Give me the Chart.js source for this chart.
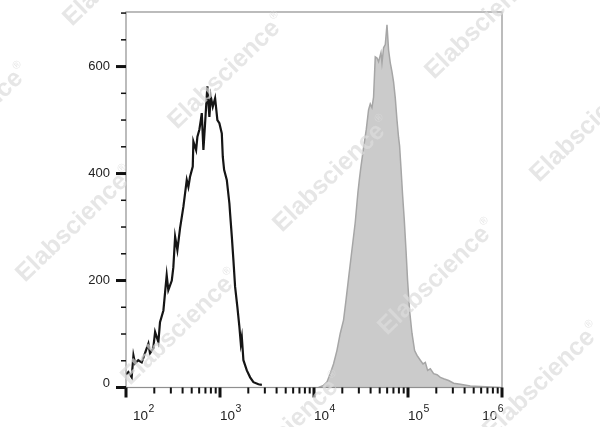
<!DOCTYPE html>
<html>
<head>
<meta charset="utf-8">
<script src="https://cdn.jsdelivr.net/npm/chart.js@4.4.0/dist/chart.umd.min.js"></script>
<style>
  html, body { margin: 0; padding: 0; background: #fff; }
  canvas { display: block; }
</style>
</head>
<body>
<canvas id="myChart" width="600" height="427"></canvas>
<script>
// black outline histogram (control)
const blackX = [100, 106, 115, 120, 125, 135, 147, 159, 173, 180, 195, 204, 221, 230, 250, 271, 282, 307, 319, 333,
  352, 376, 408, 443, 461, 480, 513, 521, 557, 575, 603, 625, 640, 666, 694, 734, 771, 798, 838, 887,
  938, 985, 1045, 1071, 1106, 1181, 1259, 1281, 1336, 1389, 1448, 1532, 1609, 1665, 1707, 1775, 1929, 2092, 2268, 2564, 2788];
const blackY = [24, 29, 19, 60, 45, 51, 47, 64, 82, 64, 73, 104, 85, 122, 144, 210, 182, 200, 225, 282,
  257, 298, 338, 388, 375, 394, 413, 460, 444, 469, 482, 500, 513, 444, 494, 563, 506, 544, 525, 541,
  500, 494, 475, 431, 407, 388, 344, 325, 282, 238, 188, 150, 113, 82, 94, 51, 32, 19, 10, 6, 5];

// grey filled histogram (stained)
const greyX = [11170, 12620, 13720, 14880, 16130, 17530, 19010, 20620, 22030, 23310, 25320, 27470, 29340, 30520, 31590,
  33660, 35960, 38050, 39670, 41360, 43020, 44850, 46760, 48630, 51580, 52860, 54980, 57320, 59760, 62150,
  64790, 67550, 70260, 73250, 76360, 79410, 81380, 84240, 87600, 91330, 95210, 99020, 104000, 110300, 117600,
  124700, 135200, 144400, 152900, 161700, 172800, 187300, 203600, 220800, 243600, 270600, 305900, 360600, 460700,
  588800, 752400, 961600];
const greyY = [0, 4, 10, 26, 44, 69, 101, 126, 167, 204, 257, 309, 365, 392, 413,
  448, 482, 519, 530, 523, 543, 618, 616, 609, 626, 607, 635, 641, 678, 631,
  607, 590, 571, 541, 500, 467, 452, 410, 360, 313, 257, 200, 144, 101, 69,
  60, 51, 44, 47, 32, 35, 26, 24, 19, 16, 13, 8, 6, 3,
  2, 1, 0];

const xMajorTicks = [100, 1000, 10000, 100000, 1000000];
const xTickPowers = ["2", "3", "4", "5", "6"];
const xMinorTicks = [200, 300, 400, 500, 600, 700, 800, 900,
  2000, 3000, 4000, 5000, 6000, 7000, 8000, 9000,
  20000, 30000, 40000, 50000, 60000, 70000, 80000, 90000,
  200000, 300000, 400000, 500000, 600000, 700000, 800000, 900000];
const yMajorTicks = [0, 200, 400, 600];
const yMinorTicks = [50, 100, 150, 250, 300, 350, 450, 500, 550, 650, 700];
const watermarkText = "Elabscience";

const FONT = '"Liberation Sans", Arial, sans-serif';

function toPoints(xs, ys) {
  return xs.map((x, i) => ({ x: x, y: ys[i] }));
}

const axesPlugin = {
  id: "axesPlugin",
  afterDatasetsDraw(chart) {
    const ctx = chart.ctx;
    const area = chart.chartArea;
    const sx = chart.scales.x;
    const sy = chart.scales.y;
    ctx.save();
    // frame
    ctx.strokeStyle = "#8f8f8f";
    ctx.lineWidth = 1.2;
    ctx.strokeRect(area.left, area.top, area.right - area.left, area.bottom - area.top);

    // tick marks
    ctx.fillStyle = "#111";
    xMinorTicks.forEach((t) => {
      const px = sx.getPixelForValue(t);
      ctx.fillRect(px - 1, area.bottom, 2, 6);
    });
    xMajorTicks.forEach((t) => {
      const px = sx.getPixelForValue(t);
      ctx.fillRect(px - 1.5, area.bottom, 3, 10);
    });
    yMinorTicks.forEach((t) => {
      const py = sy.getPixelForValue(t);
      ctx.fillRect(area.left - 5, py - 0.75, 5, 1.5);
    });
    yMajorTicks.forEach((t) => {
      const py = sy.getPixelForValue(t);
      ctx.fillRect(area.left - 10, py - 1.5, 10, 3);
    });

    // y labels
    ctx.fillStyle = "#222";
    ctx.font = "13px " + FONT;
    ctx.textAlign = "right";
    ctx.textBaseline = "middle";
    yMajorTicks.forEach((t) => {
      let py = sy.getPixelForValue(t);
      if (t === 0) py -= 4;
      ctx.fillText(String(t), area.left - 16, py);
    });

    // x labels 10^n
    ctx.textAlign = "left";
    ctx.textBaseline = "alphabetic";
    xMajorTicks.forEach((t, i) => {
      const px = sx.getPixelForValue(t);
      ctx.font = "13.5px " + FONT;
      const baseW = ctx.measureText("10").width;
      ctx.font = "10.5px " + FONT;
      const supW = ctx.measureText(xTickPowers[i]).width;
      let left = px;
      if (i === 0) left = px + 7;
      if (i === xMajorTicks.length - 1) left = px + 1 - baseW - supW;
      ctx.font = "13.5px " + FONT;
      ctx.fillText("10", left, area.bottom + 32.5);
      ctx.font = "10.5px " + FONT;
      ctx.fillText(xTickPowers[i], left + baseW + 0.5, area.bottom + 24);
    });
    ctx.restore();
  },
  afterDraw(chart) {
    const ctx = chart.ctx;
    ctx.save();
    ctx.fillStyle = "rgba(220,220,220,0.7)";
    for (let i = -2; i <= 3; i++) {
      for (let j = -1; j <= 2; j++) {
        const ox = 177 + i * 105 + j * 257;
        const oy = 130 + i * 103 - j * 50;
        if (ox < -220 || ox > 620 || oy < -20 || oy > 600) continue;
        ctx.save();
        ctx.translate(ox, oy);
        ctx.rotate(-44 * Math.PI / 180);
        ctx.font = "bold 25px " + FONT;
        ctx.textAlign = "left";
        ctx.textBaseline = "alphabetic";
        ctx.fillText(watermarkText, 0, 0);
        const w = ctx.measureText(watermarkText).width;
        ctx.font = "11px " + FONT;
        ctx.fillText("\u00AE", w + 1, -12);
        ctx.restore();
      }
    }
    ctx.restore();
  }
};

const ctx = document.getElementById("myChart").getContext("2d");
const myChart = new Chart(ctx, {
  type: "scatter",
  data: {
    datasets: [
      {
        label: "stained",
        data: toPoints(greyX, greyY),
        showLine: true,
        fill: "origin",
        backgroundColor: "#cbcbcb",
        borderColor: "#a6a6a6",
        borderWidth: 1.5,
        pointRadius: 0,
        tension: 0,
      },
      {
        label: "control",
        data: toPoints(blackX, blackY),
        showLine: true,
        fill: false,
        borderColor: "#151515",
        borderWidth: 2.2,
        pointRadius: 0,
        tension: 0,
      },
    ],
  },
  options: {
    responsive: false,
    animation: false,
    events: [],
    layout: {
      padding: { left: 126, top: 12, right: 98, bottom: 39.5 },
    },
    plugins: {
      legend: { display: false },
      tooltip: { enabled: false },
    },
    scales: {
      x: {
        type: "logarithmic",
        min: 100,
        max: 1000000,
        display: false,
      },
      y: {
        type: "linear",
        min: 0,
        max: 702,
        display: false,
      },
    },
  },
  plugins: [axesPlugin],
});
</script>
</body>
</html>
